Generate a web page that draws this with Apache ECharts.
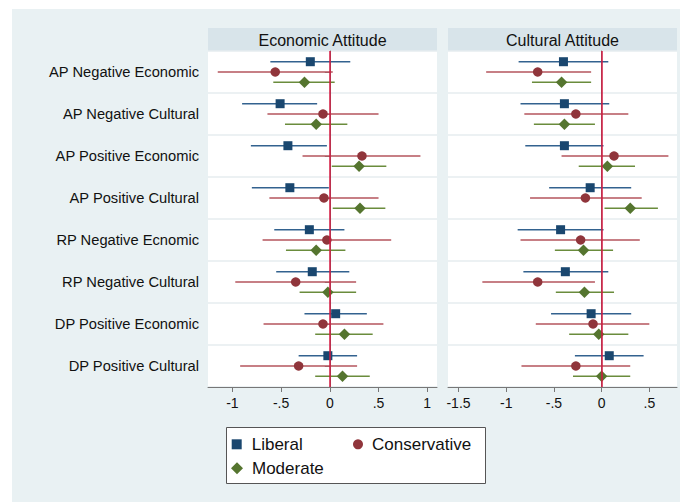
<!DOCTYPE html>
<html>
<head>
<meta charset="utf-8">
<title>Economic and Cultural Attitude</title>
<script src="https://cdn.jsdelivr.net/npm/echarts@6/dist/echarts.min.js"></script>
<style>
  html, body { margin: 0; padding: 0; background: #ffffff; }
  #chart { width: 686px; height: 502px; }
</style>
</head>
<body>
<div id="chart"></div>
<script>
// Treatment rows, top to bottom
const categories = [
  'AP Negative Economic', 'AP Negative Cultural', 'AP Positive Economic', 'AP Positive Cultural',
  'RP Negative Ecnomic', 'RP Negative Cultural', 'DP Positive Economic', 'DP Positive Cultural'
];

// Economic attitude: point estimates with lower / upper bounds
const liberalEcoEst  = [-0.20, -0.51, -0.43, -0.41, -0.21, -0.18,  0.06, -0.02];
const liberalEcoLo   = [-0.61, -0.90, -0.81, -0.80, -0.57, -0.55, -0.26, -0.32];
const liberalEcoHi   = [ 0.21, -0.13, -0.03, -0.01,  0.15,  0.20,  0.38,  0.28];
const conservEcoEst  = [-0.56, -0.07,  0.33, -0.06, -0.03, -0.35, -0.07, -0.32];
const conservEcoLo   = [-1.15, -0.64, -0.28, -0.62, -0.69, -0.97, -0.68, -0.92];
const conservEcoHi   = [ 0.03,  0.50,  0.93,  0.50,  0.63,  0.27,  0.55,  0.28];
const moderateEcoEst = [-0.26, -0.14,  0.30,  0.31, -0.14, -0.02,  0.15,  0.13];
const moderateEcoLo  = [-0.58, -0.46,  0.02,  0.03, -0.45, -0.31, -0.15, -0.15];
const moderateEcoHi  = [ 0.05,  0.18,  0.58,  0.57,  0.16,  0.27,  0.44,  0.41];

// Cultural attitude: point estimates with lower / upper bounds
const liberalCulEst  = [-0.40, -0.39, -0.39, -0.12, -0.43, -0.38, -0.11,  0.08];
const liberalCulLo   = [-0.87, -0.85, -0.80, -0.55, -0.88, -0.82, -0.53, -0.28];
const liberalCulHi   = [ 0.07,  0.08,  0.02,  0.31,  0.02,  0.07,  0.31,  0.44];
const conservCulEst  = [-0.67, -0.27,  0.13, -0.17, -0.22, -0.67, -0.09, -0.27];
const conservCulLo   = [-1.21, -0.81, -0.42, -0.75, -0.85, -1.25, -0.69, -0.84];
const conservCulHi   = [-0.11,  0.28,  0.70,  0.42,  0.40, -0.07,  0.50,  0.30];
const moderateCulEst = [-0.42, -0.39,  0.06,  0.30, -0.19, -0.18, -0.03,  0.00];
const moderateCulLo  = [-0.73, -0.71, -0.24,  0.03, -0.49, -0.48, -0.34, -0.30];
const moderateCulHi  = [-0.11, -0.07,  0.35,  0.59,  0.12,  0.13,  0.28,  0.30];

// Axis tick values
const ecoTicks = [-1, -0.5, 0, 0.5, 1];
const culTicks = [-1.5, -1, -0.5, 0, 0.5];

const FONT = '"Liberation Sans", Arial, Helvetica, sans-serif';

const groups = [
  { name: 'Liberal',      symbol: 'square',  size: 9,    fill: '#1a476f', line: '#33628f', shift: -0.245 },
  { name: 'Conservative', symbol: 'circle',  size: 9.5,  fill: '#90353b', line: '#b4545c', shift: 0 },
  { name: 'Moderate',     symbol: 'diamond', size: 11.5, fill: '#55752f', line: '#6a8c3c', shift: 0.245 }
];

function rows(est, lo, hi) {
  return categories.map((c, i) => [est[i], c, lo[i], hi[i]]);
}

function makeRender(g) {
  return function (params, api) {
    const cat = api.value(1);
    const pE = api.coord([api.value(0), cat]);
    const pL = api.coord([api.value(2), cat]);
    const pH = api.coord([api.value(3), cat]);
    const band = api.size([0, 1])[1];
    const y = pE[1] + band * g.shift;
    const x = pE[0];
    const s = g.size;
    let marker;
    if (g.symbol === 'square') {
      marker = { type: 'rect', shape: { x: x - s / 2, y: y - s / 2, width: s, height: s },
                 style: { fill: g.fill } };
    } else if (g.symbol === 'circle') {
      marker = { type: 'circle', shape: { cx: x, cy: y, r: s / 2 }, style: { fill: g.fill } };
    } else {
      const h = s / 2;
      marker = { type: 'polygon', shape: { points: [[x, y - h], [x + h, y], [x, y + h], [x - h, y]] },
                 style: { fill: g.fill } };
    }
    return {
      type: 'group',
      children: [
        { type: 'line', shape: { x1: pL[0], y1: y, x2: pH[0], y2: y },
          style: { stroke: g.line, lineWidth: 1.5 } },
        marker
      ]
    };
  };
}

const ecoData = [
  rows(liberalEcoEst, liberalEcoLo, liberalEcoHi),
  rows(conservEcoEst, conservEcoLo, conservEcoHi),
  rows(moderateEcoEst, moderateEcoLo, moderateEcoHi)
];
const culData = [
  rows(liberalCulEst, liberalCulLo, liberalCulHi),
  rows(conservCulEst, conservCulLo, conservCulHi),
  rows(moderateCulEst, moderateCulLo, moderateCulHi)
];

function fmtTick(v) {
  if (v === 0) return '0';
  let s = String(Math.abs(v)).replace(/^0\./, '.');
  return (v < 0 ? '-' : '') + s;
}

function xAxisFor(gridIndex, min, max, ticks) {
  return {
    type: 'value', gridIndex, min, max,
    splitLine: { show: false },
    axisLine: { show: true, onZero: false, lineStyle: { color: '#777', width: 1 } },
    axisTick: { show: true, length: 5, inside: false, customValues: ticks,
                lineStyle: { color: '#777', width: 1 } },
    axisLabel: { show: true, customValues: ticks, margin: 9, fontSize: 14, color: '#111',
                 fontFamily: FONT, formatter: fmtTick }
  };
}

function yAxisFor(gridIndex, showLabels) {
  return {
    type: 'category', gridIndex, data: categories, inverse: true, boundaryGap: true,
    axisLine: { show: true, lineStyle: { color: '#777', width: 1 } },
    axisTick: { show: showLabels, alignWithLabel: true, length: 5, lineStyle: { color: '#777' } },
    axisLabel: { show: showLabels, margin: 9, fontSize: 14.7, color: '#111', fontFamily: FONT },
    splitLine: { show: true, lineStyle: { color: '#e6ecef', width: 1.5 } }
  };
}

const series = [];
[ecoData, culData].forEach((set, gi) => {
  series.push({
    type: 'line', name: 'zero' + gi, xAxisIndex: gi, yAxisIndex: gi, data: [], z: 1,
    silent: true,
    markLine: {
      silent: true, symbol: 'none', label: { show: false },
      lineStyle: { color: '#d3173f', width: 1.5, type: 'solid' },
      data: [{ xAxis: 0 }]
    }
  });
  set.forEach((data, k) => {
    const g = groups[k];
    series.push({
      type: 'custom', name: g.name, xAxisIndex: gi, yAxisIndex: gi, z: 3,
      itemStyle: { color: g.fill },
      encode: { x: [0, 2, 3], y: 1 },
      renderItem: makeRender(g),
      data
    });
  });
});

const legendText = { fontSize: 17, color: '#111', fontFamily: FONT, lineHeight: 20 };
function legendAt(name, icon, left, top, size, pad) {
  return {
    data: [{ name, icon }], left, top, padding: 0, itemWidth: size, itemHeight: size,
    selectedMode: false,
    textStyle: Object.assign({ padding: [0, 0, 0, pad] }, legendText)
  };
}

const chart = echarts.init(document.getElementById('chart'), null, { renderer: 'svg' });
chart.setOption({
  backgroundColor: '#ffffff',
  animation: false,
  graphic: [
    { type: 'rect', z: -10, shape: { x: 12, y: 9, width: 668, height: 493 },
      style: { fill: '#e9f1f3' } },
    { type: 'rect', z: -9, shape: { x: 208, y: 28, width: 229, height: 23 }, style: { fill: '#d8e4ea' } },
    { type: 'rect', z: -9, shape: { x: 448, y: 28, width: 229, height: 23 }, style: { fill: '#d8e4ea' } },
    { type: 'rect', z: -9, shape: { x: 208, y: 51, width: 229, height: 336 }, style: { fill: '#ffffff' } },
    { type: 'rect', z: -9, shape: { x: 448, y: 51, width: 229, height: 336 }, style: { fill: '#ffffff' } },
    { type: 'text', z: 5, x: 322.5, y: 40, style: { text: 'Economic Attitude', fontSize: 16, fill: '#111',
      fontFamily: FONT, align: 'center', verticalAlign: 'middle' } },
    { type: 'text', z: 5, x: 562.5, y: 40, style: { text: 'Cultural Attitude', fontSize: 16, fill: '#111',
      fontFamily: FONT, align: 'center', verticalAlign: 'middle' } },
    { type: 'rect', z: -5, shape: { x: 226.5, y: 427.5, width: 259, height: 56 },
      style: { fill: '#ffffff', stroke: '#555', lineWidth: 1 } }
  ],
  grid: [
    { left: 208, top: 51, width: 229, height: 336, containLabel: false },
    { left: 448, top: 51, width: 229, height: 336, containLabel: false }
  ],
  xAxis: [xAxisFor(0, -1.25, 1.1, ecoTicks), xAxisFor(1, -1.61, 0.79, culTicks)],
  yAxis: [yAxisFor(0, true), yAxisFor(1, false)],
  legend: [
    legendAt('Liberal', 'rect', 231.7, 434.3, 10, 5),
    legendAt('Conservative', 'circle', 353, 434.3, 10, 4),
    legendAt('Moderate', 'diamond', 231, 458.3, 12, 4)
  ],
  series
});
</script>
</body>
</html>
